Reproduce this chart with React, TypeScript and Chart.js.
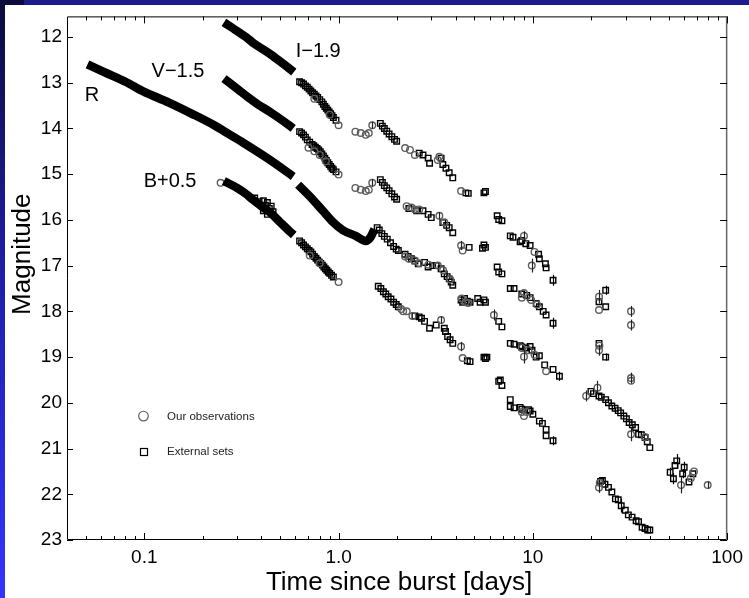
import React, { useEffect, useRef } from 'react';
import { Chart, registerables } from 'chart.js';
Chart.register(...registerables);

type P = [number, number, number?];

// ---------- axes ----------
const xTickValues = [0.1, 1, 10, 100];
const xTickLabels = ['0.1', '1.0', '10', '100'];
const xMinorTickValues = [0.05, 0.06, 0.07, 0.08, 0.09, 0.2, 0.3, 0.4, 0.5, 0.6, 0.7, 0.8, 0.9, 2, 3, 4, 5, 6, 7, 8, 9, 20, 30, 40, 50, 60, 70, 80, 90];
const yTickValues = [12, 13, 14, 15, 16, 17, 18, 19, 20, 21, 22, 23];
const yTickLabels = ['12', '13', '14', '15', '16', '17', '18', '19', '20', '21', '22', '23'];
const xTitle = 'Time since burst [days]';
const yTitle = 'Magnitude';

// ---------- band labels (time, magnitude) ----------
const bandLabelText = ['R', 'V\u22121.5', 'I\u22121.9', 'B+0.5'];
const bandLabelT = [0.0538, 0.149, 0.785, 0.1357];
const bandLabelMag = [13.28, 12.76, 12.31, 15.17];

// ---------- legend ----------
const legendText = ['Our observations', 'External sets'];
const legendMag = [20.29, 21.06];

// ---------- R ----------
const rDense1: P[] = [[0.051, 12.6], [0.063, 12.78], [0.08, 12.98], [0.1, 13.2], [0.133, 13.43], [0.174, 13.67], [0.229, 13.93], [0.257, 14.06], [0.325, 14.32], [0.444, 14.69], [0.584, 15.05]];
const rDense2: P[] = [[0.619, 15.23], [0.709, 15.48], [0.829, 15.8], [0.932, 16.04], [1.048, 16.22], [1.224, 16.35], [1.38, 16.46], [1.46, 16.38], [1.53, 16.2]];
const rSquares: P[] = [
  [1.58, 16.17], [1.62, 16.22], [1.67, 16.3], [1.72, 16.36], [1.78, 16.42], [1.85, 16.5], [1.92, 16.58], [1.98, 16.64], [2.03, 16.67],
  [2.2, 16.75], [2.28, 16.8], [2.37, 16.85], [2.47, 16.9], [2.57, 16.96], [2.77, 16.93], [2.89, 17.03], [3.05, 17.0], [3.18, 17.0], [3.37, 17.07], [3.5, 17.18], [3.62, 17.24], [3.71, 17.29], [3.8, 17.36], [3.87, 17.43],
  [4.27, 17.75], [4.35, 17.8], [4.45, 17.72], [4.6, 17.78], [4.75, 17.8], [5.2, 17.72], [5.35, 17.8], [5.6, 17.75], [5.7, 17.8],
  [6.67, 18.22], [6.93, 18.34],
  [7.65, 18.7], [8.0, 18.72], [8.6, 18.75], [8.77, 18.78], [9.2, 18.8], [9.68, 18.77], [9.9, 18.85], [10.4, 19.0], [10.8, 18.97], [11.5, 19.17], [12.7, 19.27], [13.7, 19.42, 0.1],
  [19.9, 19.75], [20.5, 19.8], [21.9, 19.85], [22.5, 19.88], [23.7, 19.93], [24.5, 20.0], [25.5, 20.07], [26.5, 20.12], [27.5, 20.17], [28.3, 20.22], [29.4, 20.29], [30.3, 20.35], [31.3, 20.43], [32.5, 20.48], [33.8, 20.54], [35, 20.69], [36.2, 20.7], [37.8, 20.76], [38.8, 20.85], [40, 20.98],
  [50.9, 21.52, 0.1], [52.9, 21.66, 0.12], [53.9, 21.37], [55, 21.27, 0.15], [59, 21.55, 0.1], [60.1, 21.41, 0.12], [63.6, 21.73], [66.6, 21.55],
];
const rCircles: P[] = [
  [2.2, 16.8], [2.3, 16.85], [2.45, 16.88], [2.6, 16.95], [2.9, 16.98], [3.24, 17.0], [3.45, 17.1], [3.75, 17.3],
  [4.3, 17.72], [4.5, 17.8], [4.65, 17.82], [6.3, 18.08, 0.12],
  [8.77, 18.8], [9.0, 18.99, 0.15], [9.5, 18.85], [10.2, 18.95], [11.7, 19.31],
  [18.8, 19.85, 0.12], [21.5, 19.67, 0.15], [32, 20.69, 0.15], [37.8, 20.75],
  [57.9, 21.8, 0.18], [65, 21.65], [67.5, 21.5], [79.4, 21.8, 0.08],
];

// ---------- V - 1.5 ----------
const vDense1: P[] = [[0.257, 12.91], [0.3, 13.13], [0.345, 13.33], [0.38, 13.46], [0.444, 13.64], [0.52, 13.84], [0.584, 14.0]];
const vSquares: P[] = [
  [0.63, 14.07], [0.645, 14.1], [0.66, 14.14], [0.675, 14.19], [0.69, 14.25], [0.71, 14.3], [0.73, 14.35], [0.745, 14.38], [0.76, 14.41], [0.775, 14.44], [0.79, 14.47], [0.805, 14.51], [0.82, 14.56], [0.835, 14.6], [0.85, 14.65], [0.865, 14.7], [0.88, 14.75], [0.895, 14.79], [0.91, 14.83], [0.925, 14.87], [0.94, 14.9], [0.97, 14.95],
  [1.64, 15.12], [1.68, 15.18], [1.72, 15.25], [1.77, 15.3], [1.82, 15.36], [1.88, 15.43], [1.94, 15.5], [1.99, 15.55],
  [2.3, 15.75], [2.52, 15.8], [2.72, 15.8], [2.89, 15.88], [3.0, 15.95], [3.44, 16.06], [3.6, 16.12], [3.71, 16.17], [3.87, 16.28],
  [4.7, 16.6], [5.5, 16.62], [5.6, 16.55], [5.7, 16.6],
  [6.55, 17.03], [6.67, 17.14], [6.93, 17.18],
  [7.65, 17.5], [8.0, 17.5], [8.77, 17.62], [9.3, 17.65], [9.68, 17.7], [10.4, 17.83], [10.8, 17.9], [11.3, 18.0], [11.7, 18.08], [12.7, 18.26, 0.12],
  [21.9, 18.7], [23.7, 19.0, 0.08],
];
const vCircles: P[] = [
  [0.7, 14.42], [0.75, 14.5], [0.8, 14.58], [0.86, 14.72], [1.0, 15.01],
  [1.22, 15.3], [1.3, 15.34], [1.38, 15.37], [1.43, 15.34], [1.49, 15.19, 0.08],
  [2.24, 15.7], [2.37, 15.73], [2.47, 15.77], [2.6, 15.77], [3.3, 15.91, 0.08], [3.5, 16.05],
  [4.27, 16.56, 0.1], [4.35, 16.67],
  [8.77, 17.7], [9.0, 17.6], [9.8, 17.75], [10.5, 17.85],
  [21.9, 18.85, 0.12], [22.0, 18.75], [32, 19.46, 0.12], [32, 19.52],
];

// ---------- I - 1.9 ----------
const iDense1: P[] = [[0.257, 11.68], [0.3, 11.87], [0.345, 12.05], [0.366, 12.14], [0.444, 12.37], [0.52, 12.59], [0.588, 12.77]];
const iSquares: P[] = [
  [0.63, 12.98], [0.645, 13.0], [0.66, 13.03], [0.675, 13.07], [0.69, 13.1], [0.705, 13.14], [0.72, 13.18], [0.735, 13.22], [0.75, 13.25], [0.765, 13.29], [0.78, 13.32], [0.8, 13.37], [0.82, 13.42], [0.835, 13.47], [0.85, 13.52], [0.865, 13.56], [0.88, 13.6], [0.895, 13.64], [0.91, 13.68], [0.925, 13.72], [0.94, 13.76], [0.97, 13.82],
  [1.64, 13.89], [1.68, 13.95], [1.72, 14.0], [1.77, 14.06], [1.82, 14.12], [1.88, 14.18], [1.94, 14.24], [1.99, 14.28],
  [2.6, 14.54], [2.72, 14.58], [2.89, 14.65], [2.94, 14.76], [3.37, 14.65], [3.44, 14.79], [3.57, 14.87], [3.71, 14.97], [3.87, 15.08],
  [4.52, 15.41], [4.65, 15.42], [5.6, 15.41], [5.7, 15.38],
  [6.55, 15.91], [6.67, 15.99], [6.93, 16.02],
  [7.65, 16.35], [7.9, 16.38], [8.6, 16.48], [8.77, 16.45], [9.2, 16.52], [9.68, 16.56], [10.7, 16.75], [10.8, 16.85], [11.6, 16.96], [11.7, 17.05], [12.7, 17.32, 0.12],
  [21.9, 17.79], [23.7, 17.54, 0.1], [23.7, 17.9],
];
const iCircles: P[] = [
  [0.75, 13.35], [0.9, 13.7], [1.0, 13.93],
  [1.22, 14.07], [1.3, 14.1], [1.38, 14.14], [1.43, 14.1], [1.49, 13.93, 0.08],
  [2.2, 14.43], [2.33, 14.47], [2.47, 14.58], [3.24, 14.69], [3.3, 14.62],
  [4.27, 15.37],
  [9.0, 16.35, 0.1], [9.87, 17.0, 0.15], [10.2, 16.7],
  [21.9, 17.68, 0.15], [21.9, 17.97], [32, 18.0, 0.12], [32, 18.3, 0.12],
];

// ---------- B + 0.5 ----------
const bDense1: P[] = [[0.257, 15.15], [0.3, 15.3], [0.338, 15.45], [0.36, 15.55], [0.4, 15.7], [0.45, 15.86], [0.5, 16.05], [0.56, 16.25], [0.588, 16.33]];
const bSquares: P[] = [
  [0.37, 15.52], [0.39, 15.6], [0.41, 15.58], [0.42, 15.68], [0.43, 15.62], [0.44, 15.75], [0.45, 15.7], [0.46, 15.82], [0.41, 15.8], [0.43, 15.88],
  [0.63, 16.46], [0.645, 16.5], [0.66, 16.55], [0.675, 16.59], [0.69, 16.63], [0.705, 16.67], [0.72, 16.7], [0.735, 16.75], [0.75, 16.8], [0.765, 16.84], [0.78, 16.88], [0.795, 16.92], [0.81, 16.95], [0.825, 16.99], [0.84, 17.03], [0.855, 17.07], [0.87, 17.1], [0.885, 17.14], [0.9, 17.17], [0.92, 17.21], [0.94, 17.25],
  [1.6, 17.45], [1.65, 17.5], [1.7, 17.57], [1.75, 17.62], [1.8, 17.68], [1.86, 17.73], [1.92, 17.8], [1.98, 17.85], [2.03, 17.9],
  [2.47, 18.1], [2.6, 18.12], [2.67, 18.15], [2.77, 18.22], [2.94, 18.37], [3.18, 18.3], [3.5, 18.37], [3.55, 18.44], [3.64, 18.55], [3.75, 18.62], [3.87, 18.7],
  [4.6, 19.08], [4.75, 19.1], [5.6, 19.0], [5.7, 19.03], [5.8, 19.0],
  [6.67, 19.53], [6.8, 19.5], [6.93, 19.62],
  [7.65, 19.93], [7.65, 20.08], [8.0, 20.11], [8.6, 20.1], [8.77, 20.14], [9.5, 20.15], [9.68, 20.18], [10.0, 20.25], [10.8, 20.4], [11.2, 20.45], [11.7, 20.58], [11.7, 20.72], [12.7, 20.83, 0.1],
  [22.3, 21.72], [22.8, 21.7], [23.5, 21.78], [24.5, 21.85], [25.5, 21.95], [26.6, 22.1], [27.5, 22.12], [28.5, 22.25, 0.15], [29.9, 22.35], [31, 22.45], [32.4, 22.5], [34, 22.58], [35, 22.6], [36.5, 22.72], [37.8, 22.75], [39, 22.78], [40, 22.78],
];
const bCircles: P[] = [
  [0.247, 15.19], [0.71, 16.78], [0.8, 16.95], [1.0, 17.36],
  [2.1, 17.95], [2.15, 18.0], [2.24, 18.0], [2.4, 18.1], [3.37, 18.19, 0.08],
  [4.27, 18.77, 0.1], [4.35, 19.02],
  [8.77, 20.2], [9.0, 20.29], [9.3, 20.2], [21.9, 21.85, 0.12], [22.1, 21.75],
];

const FONT = '"Liberation Sans", Arial, Helvetica, sans-serif';
const CIRCLE_COLOR = '#5e5e5e';
const SQUARE_COLOR = '#000';

const toPts = (a: P[]) => a.map(([x, y, e]) => ({ x, y, e }));

const denseSet = (data: P[]) => ({
  data: toPts(data), showLine: true, borderColor: '#000', borderWidth: 8.5, pointRadius: 0,
  borderJoinStyle: 'round' as const, borderCapStyle: 'butt' as const, cubicInterpolationMode: 'monotone' as const,
});
const circleSet = (data: P[]) => ({
  data: toPts(data), showLine: false, pointStyle: 'circle', pointRadius: 3.3,
  borderColor: CIRCLE_COLOR, backgroundColor: 'rgba(0,0,0,0)', pointBorderWidth: 1.4,
});
const squareSet = (data: P[]) => ({
  data: toPts(data), showLine: false, pointStyle: 'rect', pointRadius: 3.9,
  borderColor: SQUARE_COLOR, backgroundColor: 'rgba(0,0,0,0)', pointBorderWidth: 1.4,
});

const errorBarPlugin = {
  id: 'errorBars',
  afterDatasetsDraw(chart: any) {
    const { ctx, scales } = chart;
    ctx.save();
    ctx.lineWidth = 1.2;
    chart.data.datasets.forEach((ds: any, i: number) => {
      const meta = chart.getDatasetMeta(i);
      ds.data.forEach((p: any, j: number) => {
        if (!p.e) return;
        const el = meta.data[j];
        const y1 = scales.y.getPixelForValue(p.y - p.e);
        const y2 = scales.y.getPixelForValue(p.y + p.e);
        ctx.strokeStyle = ds.borderColor === CIRCLE_COLOR ? '#222' : '#000';
        ctx.beginPath();
        ctx.moveTo(Math.round(el.x) + 0.5, y1);
        ctx.lineTo(Math.round(el.x) + 0.5, y2);
        ctx.stroke();
      });
    });
    ctx.restore();
  },
};

const framePlugin = {
  id: 'frame',
  afterDraw(chart: any) {
    const { ctx, chartArea: a, scales } = chart;
    const xs = scales.x, ys = scales.y;
    ctx.save();
    ctx.lineWidth = 1;
    // box
    ctx.strokeStyle = '#000';
    ctx.beginPath();
    ctx.moveTo(a.right, a.top + 0.5); ctx.lineTo(a.left + 0.5, a.top + 0.5);
    ctx.lineTo(a.left + 0.5, a.bottom - 0.5); ctx.lineTo(a.right, a.bottom - 0.5);
    ctx.stroke();
    ctx.strokeStyle = '#666';
    ctx.lineWidth = 1.5;
    ctx.beginPath();
    ctx.moveTo(a.right - 0.5, a.top); ctx.lineTo(a.right - 0.5, a.bottom);
    ctx.stroke();
    ctx.lineWidth = 1;
    ctx.strokeStyle = '#000';
    // x ticks (top and bottom, inward)
    const drawX = (v: number, len: number) => {
      const px = Math.round(xs.getPixelForValue(v)) + 0.5;
      ctx.beginPath();
      ctx.moveTo(px, a.bottom); ctx.lineTo(px, a.bottom - len);
      ctx.moveTo(px, a.top); ctx.lineTo(px, a.top + len);
      ctx.stroke();
    };
    xTickValues.forEach((v) => drawX(v, 7));
    xMinorTickValues.forEach((v) => drawX(v, 4));
    // y ticks (left and right, inward)
    yTickValues.forEach((v) => {
      const py = Math.round(ys.getPixelForValue(v)) + 0.5;
      ctx.beginPath();
      ctx.moveTo(a.left, py); ctx.lineTo(a.left + 6, py);
      ctx.moveTo(a.right, py); ctx.lineTo(a.right - 7, py);
      ctx.stroke();
    });
    // band labels
    ctx.fillStyle = '#000';
    ctx.font = `20px ${FONT}`;
    ctx.textAlign = 'center';
    ctx.textBaseline = 'middle';
    bandLabelText.forEach((t, i) => {
      ctx.fillText(t, xs.getPixelForValue(bandLabelT[i]), ys.getPixelForValue(bandLabelMag[i]));
    });
    // legend
    const lx = xs.getPixelForValue(0.099);
    const tx = xs.getPixelForValue(0.131);
    ctx.font = `11.5px ${FONT}`;
    ctx.textAlign = 'left';
    legendText.forEach((t, i) => {
      const ly = ys.getPixelForValue(legendMag[i]);
      if (i === 0) {
        ctx.strokeStyle = CIRCLE_COLOR;
        ctx.lineWidth = 1.2;
        ctx.beginPath();
        ctx.arc(lx, ly, 4.8, 0, Math.PI * 2);
        ctx.stroke();
      } else {
        ctx.strokeStyle = SQUARE_COLOR;
        ctx.lineWidth = 1.2;
        ctx.strokeRect(Math.round(lx - 3.5) + 0.5, Math.round(ly - 3.5) + 0.5, 7, 7);
      }
      ctx.fillStyle = '#222';
      ctx.fillText(t, tx, ly + 1);
    });
    // axis titles
    ctx.fillStyle = '#000';
    ctx.font = `26px ${FONT}`;
    ctx.textAlign = 'center';
    ctx.textBaseline = 'middle';
    ctx.fillText(xTitle, (a.left + a.right) / 2 + 2, 583);
    ctx.save();
    ctx.translate(23, (a.top + a.bottom) / 2 - 24);
    ctx.rotate(-Math.PI / 2);
    ctx.fillText(yTitle, 0, 0);
    ctx.restore();
    ctx.restore();
  },
};

function App() {
  const ref = useRef<HTMLCanvasElement | null>(null);
  useEffect(() => {
    if (!ref.current) return;
    const chart = new Chart(ref.current, {
      type: 'scatter',
      data: {
        datasets: [
          denseSet(rDense1), denseSet(rDense2), denseSet(vDense1), denseSet(iDense1), denseSet(bDense1),
          circleSet(rCircles), circleSet(vCircles), circleSet(iCircles), circleSet(bCircles),
          squareSet(rSquares), squareSet(vSquares), squareSet(iSquares), squareSet(bSquares),
        ] as any,
      },
      options: {
        responsive: false,
        animation: false,
        devicePixelRatio: 1,
        layout: { padding: { top: 12, right: 13, left: 0, bottom: 0 } },
        plugins: { legend: { display: false }, tooltip: { enabled: false } },
        scales: {
          x: {
            type: 'logarithmic', min: 0.04, max: 100, position: 'bottom',
            afterBuildTicks: (s: any) => { s.ticks = xTickValues.map((v) => ({ value: v })); },
            afterFit: (s: any) => { s.height = 58; },
            ticks: {
              autoSkip: false, maxRotation: 0, minRotation: 0, padding: 6, color: '#000',
              font: { family: FONT, size: 19 },
              callback: (_v: any, i: number) => xTickLabels[i],
            },
            grid: { display: false, drawTicks: false },
            border: { display: false },
          },
          y: {
            type: 'linear', min: 11.55, max: 23, reverse: true, position: 'left',
            afterBuildTicks: (s: any) => { s.ticks = yTickValues.map((v) => ({ value: v })); },
            afterFit: (s: any) => { s.width = 67; },
            ticks: {
              autoSkip: false, padding: 5, color: '#000',
              font: { family: FONT, size: 19 },
              callback: (_v: any, i: number) => yTickLabels[i],
            },
            grid: { display: false, drawTicks: false },
            border: { display: false },
          },
        },
      } as any,
      plugins: [errorBarPlugin, framePlugin],
    });
    return () => chart.destroy();
  }, []);

  return (
    <div style={{ position: 'fixed', left: 0, top: 0, width: 749, height: 598, background: '#fff', overflow: 'hidden' }}>
      <canvas ref={ref} width={749} height={598} style={{ position: 'absolute', left: 0, top: 0, display: 'block' }} />
      <div style={{ position: 'absolute', left: 0, top: 0, width: 749, height: 5, background: '#1c1c8c' }} />
      <div style={{ position: 'absolute', left: 0, top: 0, width: 24, height: 5, background: '#0b0b3c' }} />
      <div style={{ position: 'absolute', left: 0, top: 0, width: 5, height: 598, background: 'linear-gradient(#0b0b3c, #1e1ea8 45%, #3434ff)' }} />
    </div>
  );
}

export default App;
